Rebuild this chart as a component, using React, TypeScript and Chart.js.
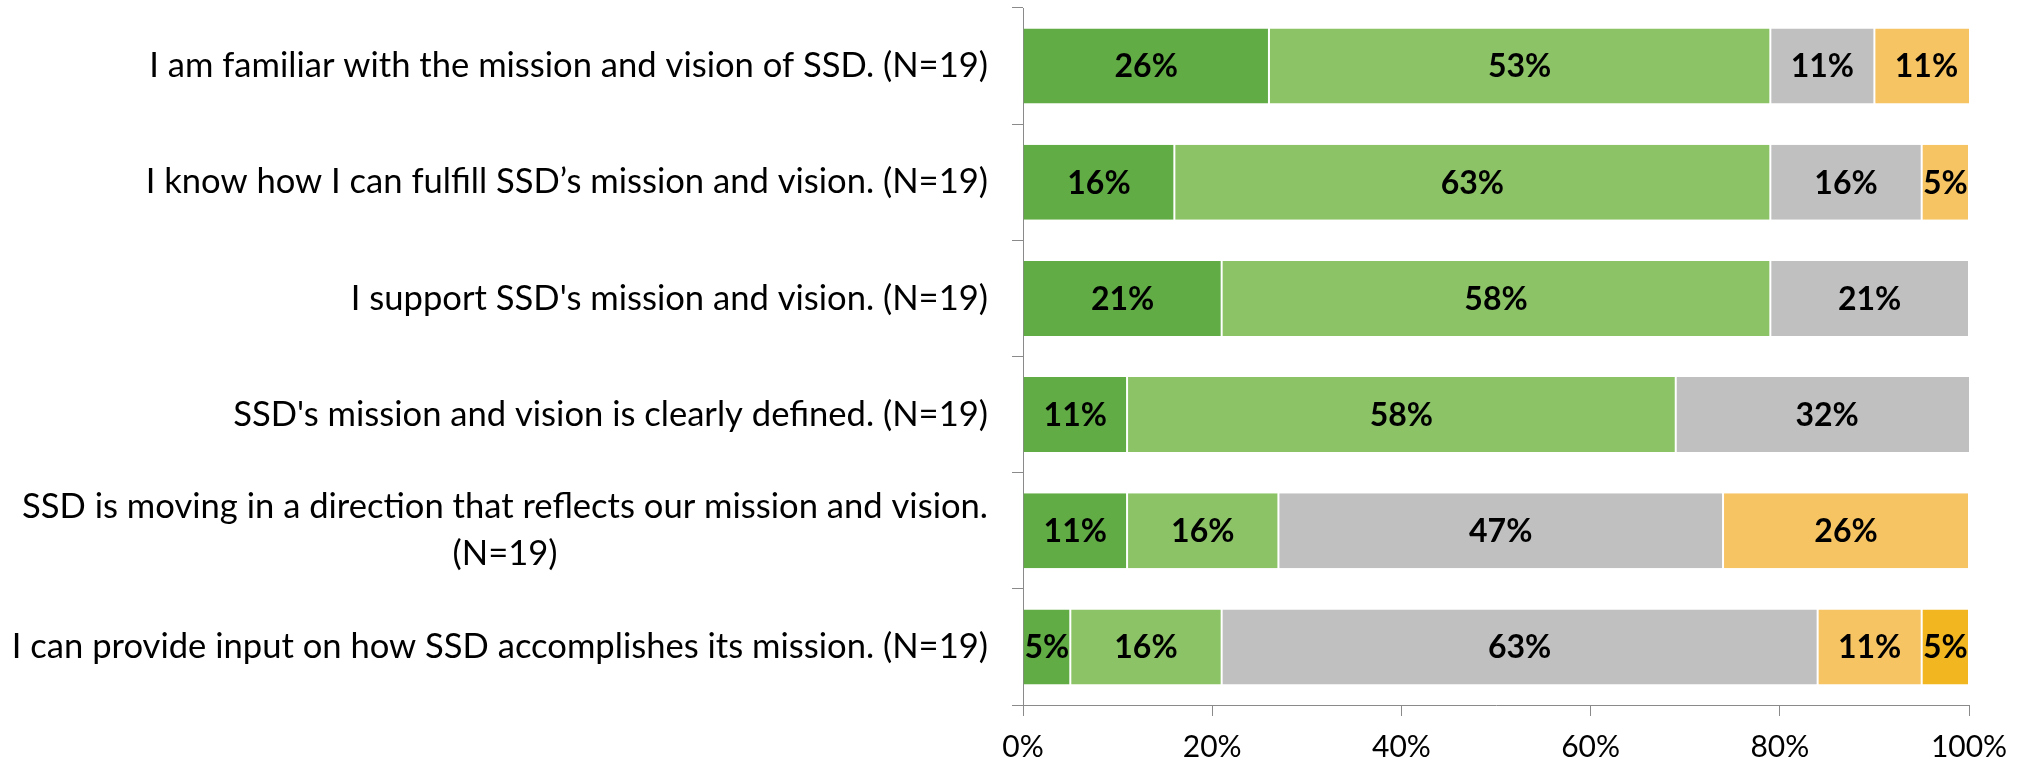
import React, { useEffect, useRef } from "react";
import { Chart, registerables } from "chart.js";

Chart.register(...registerables);

const categories: (string | string[])[] = [
  "I am familiar with the mission and vision of SSD. (N=19)",
  "I know how I can fulfill SSD’s mission and vision. (N=19)",
  "I support SSD's mission and vision. (N=19)",
  "SSD's mission and vision is clearly defined. (N=19)",
  ["SSD is moving in a direction that reflects our mission and vision.", "(N=19)"],
  "I can provide input on how SSD accomplishes its mission. (N=19)",
];

const series1 = [26, 16, 21, 11, 11, 5];
const series2 = [53, 63, 58, 58, 16, 16];
const series3 = [11, 16, 21, 32, 47, 63];
const series4 = [11, 5, 0, 0, 26, 11];
const series5 = [0, 0, 0, 0, 0, 5];

const xTicks = [0, 20, 40, 60, 80, 100];

const colors = ["#62AC46", "#8CC366", "#C0C0C0", "#F6C463", "#F2B620"];
const axisColor = "#8A8A8A";
const FONT = "Lato, 'Open Sans', sans-serif";

const catLabelPlugin = {
  id: "catLabels",
  afterDraw(chart: any) {
    const ctx = chart.ctx;
    const y = chart.scales.y;
    ctx.save();
    ctx.font = `34.6px ${FONT}`;
    ctx.fillStyle = "#000";
    ctx.textAlign = "center";
    ctx.textBaseline = "middle";
    const lh = 47;
    const rightX = 988;
    categories.forEach((lab, i) => {
      const lines = Array.isArray(lab) ? lab : [lab];
      const w = Math.max(...lines.map((l) => ctx.measureText(l).width));
      const cx = rightX - w / 2;
      const cy = y.getPixelForValue(i);
      const start = cy - ((lines.length - 1) * lh) / 2;
      lines.forEach((l, j) => ctx.fillText(l, cx, start + j * lh));
    });
    ctx.restore();
  },
};

const valueLabelPlugin = {
  id: "valueLabels",
  afterDatasetsDraw(chart: any) {
    const ctx = chart.ctx;
    ctx.save();
    ctx.font = `bold 32px ${FONT}`;
    ctx.fillStyle = "#000";
    ctx.textAlign = "center";
    ctx.textBaseline = "middle";
    chart.data.datasets.forEach((ds: any, di: number) => {
      const meta = chart.getDatasetMeta(di);
      meta.data.forEach((bar: any, i: number) => {
        const v = ds.data[i];
        if (!v) return;
        const p = bar.getCenterPoint();
        ctx.fillText(Math.round(v) + "%", p.x, p.y + 1);
      });
    });
    ctx.restore();
  },
};

export default function App() {
  const ref = useRef<HTMLCanvasElement>(null);
  useEffect(() => {
    if (!ref.current) return;
    const all = [series1, series2, series3, series4, series5];
    const chart = new Chart(ref.current, {
      type: "bar",
      data: {
        labels: categories.map((c) => (Array.isArray(c) ? c.join(" ") : c)),
        datasets: all.map((d, k) => ({
          label: "S" + (k + 1),
          data: d,
          backgroundColor: colors[k],
          borderColor: "#FFFFFF",
          borderWidth: { left: k === 0 ? 0 : 1, right: 1, top: 0, bottom: 0 },
          borderSkipped: false,
          categoryPercentage: 1,
          barPercentage: 0.645,
        })),
      },
      options: {
        indexAxis: "y",
        animation: false,
        responsive: true,
        maintainAspectRatio: false,
        layout: { padding: { top: 8, right: 61, left: 0, bottom: 0 } },
        plugins: { legend: { display: false }, tooltip: { enabled: false } },
        scales: {
          x: {
            stacked: true,
            min: 0,
            max: 100,
            afterBuildTicks: (s: any) => {
              s.ticks = xTicks.map((v) => ({ value: v }));
            },
            afterFit: (s: any) => {
              s.height = 64;
            },
            ticks: {
              callback: (v: any) => v + "%",
              font: { family: FONT, size: 30 },
              color: "#000",
              padding: 13,
              maxRotation: 0,
            },
            grid: {
              drawOnChartArea: false,
              tickLength: 11,
              color: axisColor,
            },
            border: { color: axisColor, width: 1 },
          },
          y: {
            stacked: true,
            afterFit: (s: any) => {
              s.width = 1023;
            },
            ticks: { display: false },
            grid: {
              drawOnChartArea: false,
              tickLength: 11,
              color: axisColor,
              offset: true,
            },
            border: { color: axisColor, width: 1 },
          },
        },
      },
      plugins: [catLabelPlugin, valueLabelPlugin],
    });
    return () => chart.destroy();
  }, []);
  return (
    <div style={{ position: "fixed", left: 0, top: 0, width: 2030, height: 769, background: "#fff" }}>
      <canvas ref={ref} />
    </div>
  );
}
